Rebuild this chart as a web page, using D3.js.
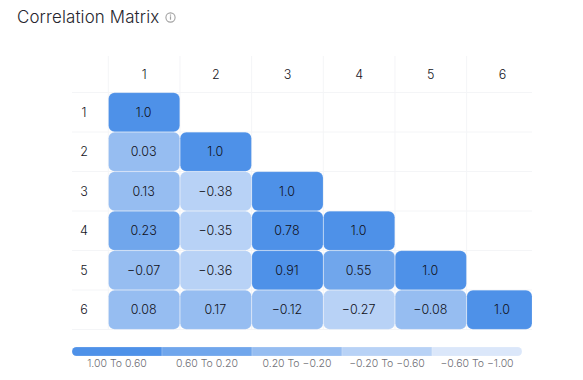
<!DOCTYPE html>
<html><head><meta charset="utf-8">
<script src="https://cdn.jsdelivr.net/npm/d3@7"></script>
<style>
html,body{margin:0;padding:0;background:#fff;overflow:hidden}
svg{display:block}
text{font-family:Inter,"Open Sans",sans-serif;fill:#14141c}
</style></head><body>
<svg id="c" width="583" height="380"></svg>
<script>
const title = "Correlation Matrix";
const labels = ["1","2","3","4","5","6"];
const matrix = [
  ["1.0"],
  ["0.03","1.0"],
  ["0.13","-0.38","1.0"],
  ["0.23","-0.35","0.78","1.0"],
  ["-0.07","-0.36","0.91","0.55","1.0"],
  ["0.08","0.17","-0.12","-0.27","-0.08","1.0"]
];
const legendLabels = ["1.00 To 0.60","0.60 To 0.20","0.20 To -0.20","-0.20 To -0.60","-0.60 To -1.00"];
const legendColors = ["#4e91e8","#70a6ec","#96bdf1","#b8d2f6","#dbe7fa"];
const thresholds = [-0.6,-0.2,0.2,0.6];

const svg = d3.select("#c");
const minus = s => s.replace(/-/g,"\u2212");
const x = d3.scaleBand().domain(labels).range([108.3,538.3]);
const y = d3.scaleBand().domain(labels).range([92.5,329.5]);
const color = d3.scaleThreshold().domain(thresholds).range(legendColors.slice().reverse());
const right = 532;

svg.append("text").attr("x",17).attr("y",22.5).attr("font-size",16.9).attr("letter-spacing",0.15).attr("font-weight",300).style("fill","#26262e").text(title);
const info = svg.append("g").attr("transform","translate(170.5,17.5)");
info.append("circle").attr("r",4.6).attr("fill","none").attr("stroke","#a2a2a2").attr("stroke-width",1.1);
info.append("rect").attr("x",-0.6).attr("y",-1.2).attr("width",1.2).attr("height",3.4).attr("fill","#a2a2a2");
info.append("rect").attr("x",-0.6).attr("y",-3).attr("width",1.2).attr("height",1.2).attr("fill","#a2a2a2");

const grid = svg.append("g").attr("stroke","#f4f5f7").attr("stroke-width",1);
labels.forEach(d=>{
  grid.append("line").attr("x1",x(d)).attr("x2",x(d)).attr("y1",56).attr("y2",329.5);
  grid.append("line").attr("x1",72).attr("x2",right).attr("y1",y(d)).attr("y2",y(d));
});
grid.append("line").attr("x1",72).attr("x2",right).attr("y1",y.range()[1]).attr("y2",y.range()[1]);

svg.append("g").selectAll("text").data(labels).join("text")
  .attr("x",d=>x(d)+x.bandwidth()/2).attr("y",79).attr("text-anchor","middle").attr("font-size",12.5).attr("font-weight",300).text(d=>d);
svg.append("g").selectAll("text").data(labels).join("text")
  .attr("x",84).attr("y",d=>y(d)+y.bandwidth()/2+4.5).attr("text-anchor","middle").attr("font-size",12.5).attr("font-weight",300).text(d=>d);

const cells = matrix.flatMap((row,r)=>row.map((v,c)=>({r:labels[r],c:labels[c],v})));
const cg = svg.append("g");
cg.selectAll("rect").data(cells).join("rect")
  .attr("x",d=>x(d.c)+0.25)
  .attr("y",d=>y(d.r)+0.25)
  .attr("width",d=>Math.min(x.bandwidth()-0.5,right-x(d.c)-0.25))
  .attr("height",y.bandwidth()-0.5)
  .attr("rx",6).attr("ry",6)
  .attr("fill",d=>color(+d.v))
  .attr("stroke","#ffffff").attr("stroke-opacity",0.2).attr("stroke-width",0.75);
cg.selectAll("text").data(cells).join("text")
  .attr("x",d=>x(d.c)+x.bandwidth()/2-0.5)
  .attr("y",d=>y(d.r)+y.bandwidth()/2+4.5)
  .attr("text-anchor","middle").attr("font-size",12.5).attr("font-weight",300).style("fill","#101018")
  .text(d=>minus(d.v));

const lx = d3.scaleBand().domain(legendLabels).range([72,522]);
const clipId="legclip";
svg.append("clipPath").attr("id",clipId).append("rect").attr("x",72).attr("y",347).attr("width",450).attr("height",9).attr("rx",4.5);
svg.append("g").attr("clip-path",`url(#${clipId})`).selectAll("rect").data(legendLabels).join("rect")
  .attr("x",d=>lx(d)).attr("y",347).attr("width",lx.bandwidth()).attr("height",9)
  .attr("fill",(d,i)=>legendColors[i]).attr("stroke","#fff").attr("stroke-opacity",0.4).attr("stroke-width",0.5);
svg.append("g").selectAll("text").data(legendLabels).join("text")
  .attr("x",d=>lx(d)+lx.bandwidth()/2).attr("y",367)
  .attr("text-anchor","middle").attr("font-size",10.5).attr("font-weight",300).style("fill","#6f6f76")
  .text(d=>minus(d));
</script></body></html>
